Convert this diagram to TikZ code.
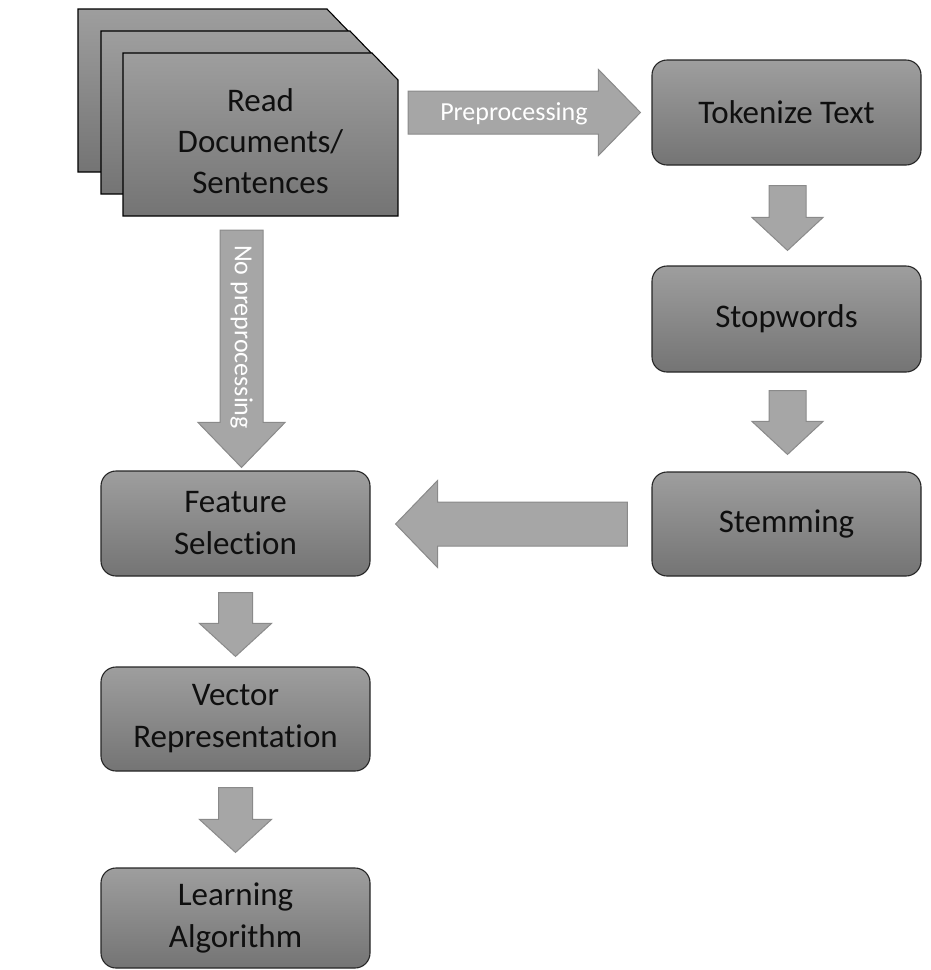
\documentclass[tikz,border=0pt]{standalone}
\usepackage{fontspec}
\setmainfont[Ligatures=NoCommon]{Carlito}
\usetikzlibrary{calc}

\definecolor{boxtop}{RGB}{158,158,158}
\definecolor{boxbot}{RGB}{116,116,116}
\definecolor{arrowfill}{RGB}{166,166,166}
\definecolor{arrowline}{RGB}{138,138,138}
\definecolor{inktext}{RGB}{15,15,15}

\tikzset{
  stepbox/.style={draw=black!85, line width=1.1pt, rounded corners=15pt,
    top color=boxtop, bottom color=boxbot, minimum width=269pt,
    minimum height=105pt, align=center, text=inktext,
    font=\fontsize{33}{42}\selectfont, inner sep=0pt},
  docpage/.style={draw=black, line width=1.1pt, top color=boxtop, bottom color=boxbot},
  fatarrow/.style={fill=arrowfill, draw=arrowline, line width=1pt, line join=miter},
  arrowlabel/.style={text=white, font=\fontsize{26}{30}\selectfont, inner sep=0pt},
}

% block arrow: tail, tip, shaft half-width, head half-width, head length
\newcommand\blockarrow[5]{%
  \path ($(#2)!#5!(#1)$) coordinate (hb);
  \draw[fatarrow] ($(#1)!#3!90:(#2)$) -- ($(hb)!#3!90:(#2)$)
    -- ($(hb)!#4!90:(#2)$) -- (#2) -- ($(hb)!#4!-90:(#2)$)
    -- ($(hb)!#3!-90:(#2)$) -- ($(#1)!#3!-90:(#2)$) -- cycle;
}

% one page of the document stack, from its top-left corner
\newcommand\docsheet[2]{%
  \path[docpage] (#1,#2) -- ++(249,0) -- ++(26,27) -- ++(0,136) -- ++(-275,0) -- cycle;
}

\begin{document}
\begin{tikzpicture}[x=1pt,y=-1pt]
\useasboundingbox (0,0) rectangle (930,970);

% stack of documents
\docsheet{78}{9}
\docsheet{101}{31}
\docsheet{123}{53}
\node[minimum width=275pt, minimum height=163pt, inner sep=0pt] (docs) at (260.5,134.5) {};
\node[align=center, text=inktext, font=\fontsize{33}{41}\selectfont, inner sep=0pt]
  (docslabel) at ($(docs.center)+(0,7)$) {Read\\Documents/\\Sentences};

% processing steps
\node[stepbox] (tok) at (786.5,112.5) {Tokenize Text};
\node[stepbox, minimum height=106pt] (stop) at (786.5,319) {Stopwords};
\node[stepbox, minimum height=104pt] (stem) at (786.5,524) {Stemming};
\node[stepbox] (feat) at (235.5,523.5) {Feature\\Selection};
\node[stepbox, minimum height=104pt] (vec) at (235.5,719) {Vector\\Representation};
\node[stepbox, minimum height=100pt] (learn) at (235.5,918) {Learning\\Algorithm};

% preprocessing branch
\coordinate (pretail) at ($(docs.east |- tok.west)+(10,0)$);
\coordinate (pretip) at ($(tok.west)+(-11,0)$);
\blockarrow{pretail}{pretip}{21.5pt}{43pt}{42pt}
\node[arrowlabel] (prelabel) at ($(pretail)!0.455!(pretip)+(0,1.5)$) {Preprocessing};

\coordinate (t1) at ($(tok.south)+(1,20)$);
\coordinate (h1) at ($(stop.north)+(1,-15)$);
\blockarrow{t1}{h1}{18.5pt}{35.5pt}{33pt}

\coordinate (t2) at ($(stop.south)+(1,18)$);
\coordinate (h2) at ($(stem.north)+(1,-17)$);
\blockarrow{t2}{h2}{18.5pt}{35.5pt}{33pt}

\coordinate (t3) at ($(stem.west)+(-24,0)$);
\coordinate (h3) at ($(feat.east |- stem.west)+(25,0)$);
\blockarrow{t3}{h3}{22pt}{43.5pt}{42pt}

% direct branch
\coordinate (h4) at ($(feat.north)+(6,-3)$);
\coordinate (t4) at ($(h4 |- docs.south)+(0,14)$);
\blockarrow{t4}{h4}{21.5pt}{43.5pt}{45pt}
\node[arrowlabel, rotate=-90] (nolabel) at ($(t4)!0.45!(h4)$) {No preprocessing};

% final steps
\coordinate (t5) at ($(feat.south)+(0,16)$);
\coordinate (h5) at ($(vec.north)+(0,-10)$);
\blockarrow{t5}{h5}{17pt}{36pt}{33pt}

\coordinate (t6) at ($(vec.south)+(0,16)$);
\coordinate (h6) at ($(learn.north)+(0,-15)$);
\blockarrow{t6}{h6}{17pt}{36pt}{33pt}
\end{tikzpicture}
\end{document}
